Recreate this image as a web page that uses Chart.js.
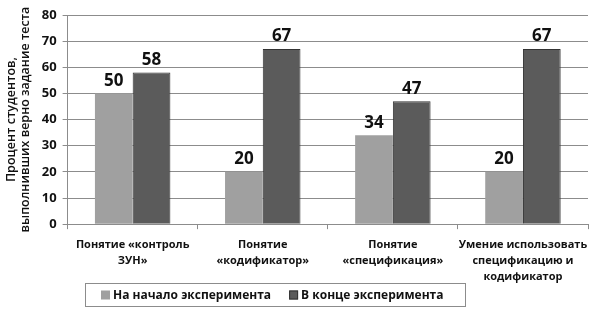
<!DOCTYPE html>
<html><head><meta charset="utf-8">
<script src="https://cdn.jsdelivr.net/npm/chart.js@4.4.0/dist/chart.umd.min.js"></script>
<style>html,body{margin:0;padding:0;background:#fff}</style>
</head><body><canvas id="c" width="598" height="318" style="width:598px;height:318px;display:block"></canvas>
<script>
const categories = [["Понятие «контроль","ЗУН»"],["Понятие","«кодификатор»"],["Понятие","«спецификация»"],["Умение использовать","спецификацию и","кодификатор"]];
const seriesNames = ["На начало эксперимента","В конце эксперимента"];
const startValues = [50,20,34,20];
const endValues = [58,67,47,67];
const yTicks = [0,10,20,30,40,50,60,70,80];
const FONT = "'Open Sans', 'Noto Sans', sans-serif";

const labelsPlugin = {
  id:'vals',
  afterDatasetsDraw(chart){
    const ctx=chart.ctx;
    ctx.save();
    ctx.font="bold 17px "+FONT;
    ctx.fillStyle="#111";
    ctx.textAlign="center";ctx.textBaseline="bottom";
    chart.data.datasets.forEach((ds,di)=>{
      chart.getDatasetMeta(di).data.forEach((el,i)=>{
        ctx.fillText(String(ds.data[i]),el.x,el.y-4);
      });
    });
    ctx.restore();
  },
  afterDraw(chart){
    const ctx=chart.ctx;
    ctx.save();
    const bx=85,by=283,bw=380,bh=23;
    ctx.strokeStyle="#8c8c8c";ctx.lineWidth=1;
    ctx.strokeRect(bx+0.5,by+0.5,bw,bh);
    ctx.font="bold 12px "+FONT;
    ctx.textBaseline="middle";ctx.textAlign="left";
    let x=bx+16;
    const cy=by+bh/2+1;
    chart.data.datasets.forEach((ds,di)=>{
      ctx.fillStyle=ds.backgroundColor;
      ctx.fillRect(x,cy-5,9,9);
      if(di===1){ctx.strokeStyle=ds.borderColor;ctx.strokeRect(x+0.5,cy-4.5,8,8);}
      x+=12;
      ctx.fillStyle="#111";
      ctx.fillText(ds.label,x,cy);
      x+=ctx.measureText(ds.label).width+18;
    });
    ctx.restore();
  }
};

new Chart(document.getElementById('c'),{
  type:'bar',
  data:{labels:categories,datasets:[
    {label:seriesNames[0],data:startValues,backgroundColor:'#a0a0a0',borderColor:'#999',borderWidth:0,categoryPercentage:0.58,barPercentage:1},
    {label:seriesNames[1],data:endValues,backgroundColor:'#5b5b5b',borderColor:'#333',borderWidth:1,categoryPercentage:0.58,barPercentage:1}
  ]},
  options:{
    responsive:false,animation:false,devicePixelRatio:1,
    layout:{padding:{left:4,right:10,top:15,bottom:25}},
    plugins:{legend:{display:false},tooltip:{enabled:false}},
    scales:{
      x:{
        grid:{display:true,drawOnChartArea:false,offset:true,color:'#8c8c8c',tickLength:5},
        border:{color:'#8c8c8c'},
        ticks:{color:'#111',font:{family:FONT,size:11,weight:'bold',lineHeight:1.45},maxRotation:0,autoSkip:false,padding:8}
      },
      y:{
        min:0,max:80,
        afterBuildTicks(axis){axis.ticks=yTicks.map(v=>({value:v}));},
        grid:{color:'#8c8c8c',tickLength:5},
        border:{color:'#8c8c8c'},
        ticks:{color:'#111',font:{family:FONT,size:13,weight:'bold'},padding:6},
        title:{display:true,text:["Процент студентов,","выполнивших верно задание теста"],color:'#111',font:{family:FONT,size:12.5,weight:'600',lineHeight:1.15},padding:{top:0,bottom:3}}
      }
    }
  },
  plugins:[labelsPlugin]
});
</script></body></html>
